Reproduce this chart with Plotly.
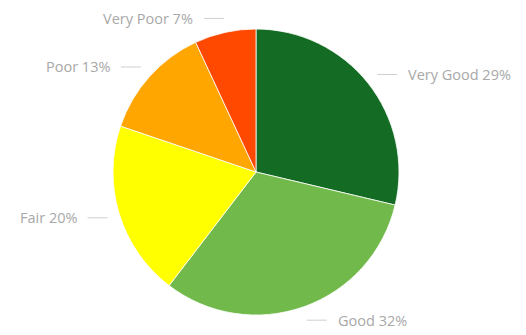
import math
import plotly.graph_objects as go

# Rating distribution, listed clockwise from 12 o'clock
categories = ["Very Good", "Good", "Fair", "Poor", "Very Poor"]
values = [29, 32, 20, 13, 7]
colors = ["#146b24", "#70b94a", "#ffff00", "#ffa600", "#ff4800"]

W, H = 526, 335
margin = dict(l=0, r=14, t=29, b=20)
plot_w = W - margin["l"] - margin["r"]
plot_h = H - margin["t"] - margin["b"]
radius_px = min(plot_w, plot_h) / 2

fig = go.Figure(
    go.Pie(
        labels=categories,
        values=values,
        sort=False,
        direction="clockwise",
        rotation=0,
        textinfo="none",
        hoverinfo="label+percent",
        marker=dict(colors=colors, line=dict(color="white", width=0.8)),
        showlegend=False,
    )
)

# Outside labels with short horizontal leader dashes, placed at each slice's mid-angle
total = sum(values)
label_color = "#a8a8a8"
shapes, annotations = [], []
cum = 0.0
for name, v in zip(categories, values):
    mid = (cum + v / 2) / total * 2 * math.pi
    cum += v
    r = radius_px * 1.1
    ax = 0.5 + r * math.sin(mid) / plot_w
    ay = 0.5 + r * math.cos(mid) / plot_h
    right = math.sin(mid) >= 0
    dash = 18 / plot_w
    gap = 9 / plot_w
    if right:
        x0, x1 = ax - 2 / plot_w, ax + dash
        tx, anchor = x1 + gap, "left"
    else:
        x0, x1 = ax - dash, ax + 2 / plot_w
        tx, anchor = x0 - gap, "right"
    shapes.append(dict(type="line", xref="paper", yref="paper",
                       x0=x0, x1=x1, y0=ay, y1=ay,
                       line=dict(color="#cfcfcf", width=1)))
    pct = round(v / total * 100)
    annotations.append(dict(xref="paper", yref="paper", x=tx, y=ay,
                            text=f"{name} {pct}%", showarrow=False,
                            xanchor=anchor, yanchor="middle",
                            font=dict(family="Open Sans", size=14.5, color=label_color)))

fig.update_layout(
    width=W,
    height=H,
    margin=margin,
    paper_bgcolor="white",
    plot_bgcolor="white",
    shapes=shapes,
    annotations=annotations,
)

fig.write_html("out.html")
